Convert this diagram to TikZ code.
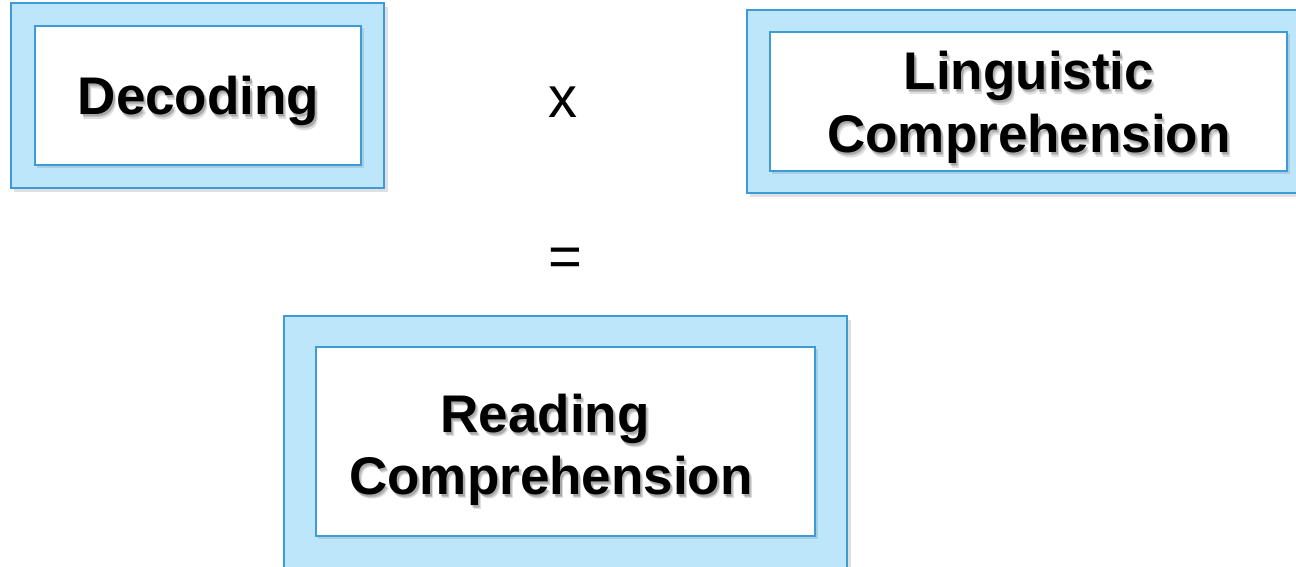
\documentclass[tikz,border=0pt]{standalone}
\usepackage{fontspec}
\setmainfont{Liberation Sans}
\usetikzlibrary{calc}
\definecolor{boxfill}{HTML}{BEE6FB}
\definecolor{boxline}{HTML}{3D9BD8}
\tikzset{
  outerbox/.style={draw=boxline, fill=boxfill, line width=2pt, inner sep=0pt},
  innerbox/.style={draw=boxline, fill=white, line width=2pt, inner sep=0pt},
  lbl/.style={anchor=base, inner sep=0pt, font=\fontsize{53}{60}\bfseries\selectfont},
  shd/.style={lbl, text=black, opacity=0.13},
  sym/.style={anchor=base, inner sep=0pt, font=\fontsize{58}{64}\selectfont},
}
\newcommand{\shlabel}[4]{%
  \node[shd] at ($(#2,#3)+(2,3)$) {#4};
  \node[shd] at ($(#2,#3)+(3,4.5)$) {#4};
  \node[shd] at ($(#2,#3)+(1.5,2)$) {#4};
  \node[lbl] (#1) at (#2,#3) {#4};
}
\begin{document}
\begin{tikzpicture}[x=1pt,y=-1pt]
\useasboundingbox (0,0) rectangle (1296,567);
\clip (0,0) rectangle (1296,567);
% box shadows
\fill[black,opacity=0.12] (14,7) rectangle (388,192);
\fill[black,opacity=0.12] (750,14) rectangle (1310,197);
\fill[black,opacity=0.12] (287,320) rectangle (851,600);
% outer boxes
\node[outerbox, minimum width=373pt, minimum height=185pt] (dec) at (197.5,95.5) {};
\node[outerbox, minimum width=563pt, minimum height=183pt] (ling) at (1028.5,101.5) {};
\node[outerbox, minimum width=563pt, minimum height=290pt] (read) at (565.5,461) {};
% inner boxes with soft shadow
\fill[black,opacity=0.10] (37,28) rectangle (364,168);
\fill[black,opacity=0.10] (772,34) rectangle (1290,174);
\fill[black,opacity=0.10] (318,349) rectangle (818,539);
\node[innerbox, minimum width=326pt, minimum height=139pt] (decin) at (198,95.5) {};
\node[innerbox, minimum width=517pt, minimum height=139pt] (lingin) at (1028.5,101.5) {};
\node[innerbox, minimum width=499pt, minimum height=189pt] (readin) at (565.5,441.5) {};
% labels
\shlabel{decT}{198.5}{115}{Decoding}
\shlabel{lingT1}{1029}{90}{Linguistic}
\shlabel{lingT2}{1029}{153}{Comprehension}
\shlabel{readT1}{545}{432}{Reading}
\shlabel{readT2}{551}{494}{Comprehension}
% operators
\node[sym] (times) at (563,118) {x};
\node[sym] (equals) at (565,276) {=};
\end{tikzpicture}
\end{document}
